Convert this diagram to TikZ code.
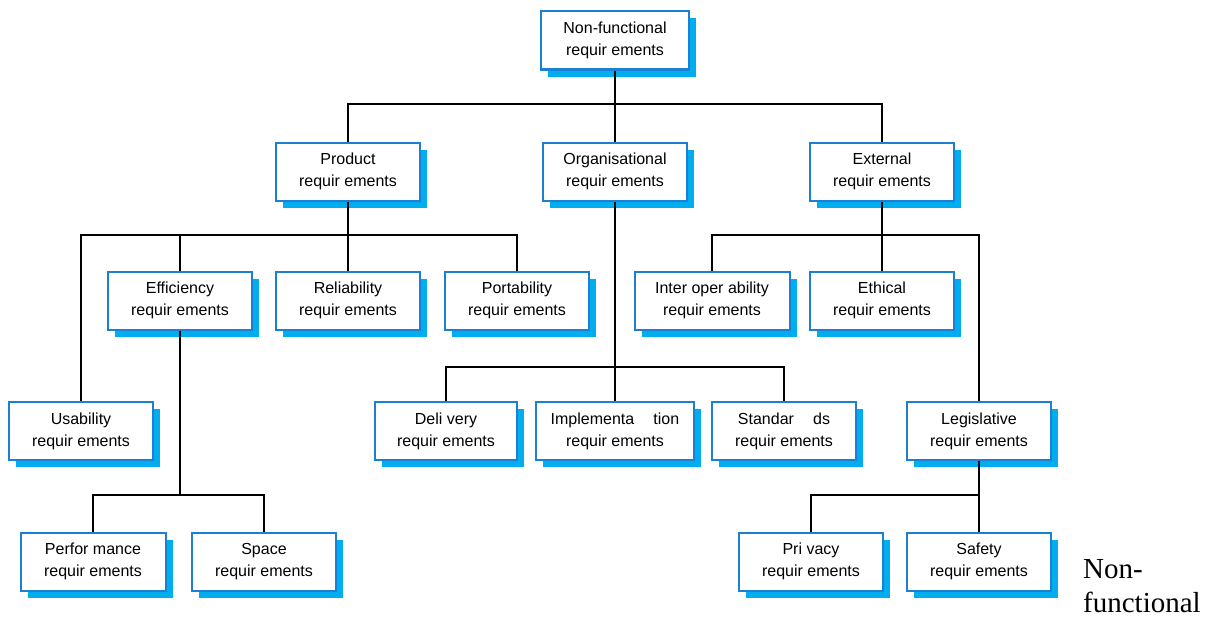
\documentclass[tikz,border=0pt]{standalone}
\usepackage{fontspec}
\setmainfont{Liberation Sans}
\newfontfamily\bigserif{Liberation Serif}
\usetikzlibrary{shadows}
\definecolor{boxblue}{HTML}{1B7FD4}
\definecolor{shadowblue}{HTML}{00AEEF}

\begin{document}
\begin{tikzpicture}[x=1pt,y=-1pt,
  req/.style={draw=boxblue, line width=2pt, fill=white,
    minimum width=#1, minimum height=58pt, inner sep=0pt,
    align=center, font=\fontsize{16}{22}\selectfont,
    general shadow={fill=shadowblue, shadow xshift=7pt, shadow yshift=-7pt}},
  req/.default=144pt,
  conn/.style={draw=black, line width=2pt},
  note/.style={anchor=base west, inner sep=0pt, font=\bigserif\fontsize{29}{29}\selectfont}
]
\useasboundingbox (0,0) rectangle (1220,626);

% requirement boxes
\node[req=148pt] (nf) at (615,40.5) {Non-functional\\requir ements};

\node[req] (prod) at (348,171.5) {Product\\requir ements};
\node[req] (org)  at (615,171.5) {Organisational\\requir ements};
\node[req] (ext)  at (882,171.5) {External\\requir ements};

\node[req] (eff)  at (180,300.5) {Efficiency\\requir ements};
\node[req] (rel)  at (348,300.5) {Reliability\\requir ements};
\node[req] (port) at (517,300.5) {Portability\\requir ements};
\node[req=155pt] (inter) at (712,300.5) {Inter oper ability\\requir ements};
\node[req] (eth)  at (882,300.5) {Ethical\\requir ements};

\node[req] (use)  at (81,431) {Usability\\requir ements};
\node[req=142pt] (del) at (446,431) {Deli very\\requir ements};
\node[req=158pt] (impl) at (615,431) {Implementa\hspace{1.2em}tion\\requir ements};
\node[req] (std)  at (784,431) {Standar\hspace{1.2em}ds\\requir ements};
\node[req] (leg)  at (979,431) {Legislative\\requir ements};

\node[req=145pt] (perf) at (93,561.5) {Perfor mance\\requir ements};
\node[req] (space) at (264,561.5) {Space\\requir ements};
\node[req] (priv)  at (811,561.5) {Pri vacy\\requir ements};
\node[req] (safe)  at (979,561.5) {Safety\\requir ements};

% tree connectors
\coordinate (topbus) at (615,104);
\draw[conn] (nf.south) -- (org.north);
\draw[conn] (topbus) -| (prod.north);
\draw[conn] (topbus) -| (ext.north);

\coordinate (prodbus) at (348,235);
\draw[conn] (prod.south) -- (rel.north);
\draw[conn] (prodbus) -| (use.north);
\draw[conn] (prodbus) -| (eff.north);
\draw[conn] (prodbus) -| (port.north);

\coordinate (orgbus) at (615,367);
\draw[conn] (org.south) -- (impl.north);
\draw[conn] (orgbus) -| (del.north);
\draw[conn] (orgbus) -| (std.north);

\coordinate (extbus) at (882,235);
\draw[conn] (ext.south) -- (eth.north);
\draw[conn] (extbus) -| (inter.north);
\draw[conn] (extbus) -| (leg.north);

\coordinate (effbus) at (180,495);
\draw[conn] (eff.south) -- (effbus);
\draw[conn] (effbus) -| (perf.north);
\draw[conn] (effbus) -| (space.north);

\coordinate (legbus) at (979,495);
\draw[conn] (leg.south) -- (safe.north);
\draw[conn] (legbus) -| (priv.north);

% caption text at the lower right
\node[note] (cap1) at (1083,578) {Non-};
\node[note] (cap2) at (1083,612) {functional};
\end{tikzpicture}
\end{document}
